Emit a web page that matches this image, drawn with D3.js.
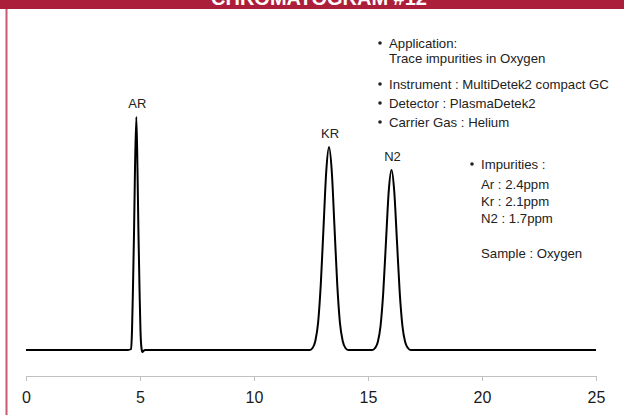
<!DOCTYPE html>
<html>
<head>
<meta charset="utf-8">
<script src="https://cdn.jsdelivr.net/npm/d3@7/dist/d3.min.js"></script>
<style>
  html, body { margin: 0; padding: 0; background: #fff; }
  svg { display: block; }
</style>
</head>
<body>
<script>
// ---- data (retention time in min, detector signal in arbitrary units) ----
const title = "CHROMATOGRAM #12";
const xTicks = [0, 5, 10, 15, 20, 25];

const timeAR = [0, 4.47, 4.61, 4.65, 4.69, 4.74, 4.78, 4.84, 4.89, 4.93, 4.98, 5.02, 5.07, 5.11, 5.15, 5.22];
const signalAR = [0, 0, 1, 20, 60, 120, 180, 233, 180, 120, 60, 20, 1, -2, -1, 0];

const timeKR = [12.45, 12.57, 12.69, 12.81, 12.93, 13.05, 13.17, 13.29, 13.41, 13.53, 13.65, 13.77, 13.89, 14.01, 14.13];
const signalKR = [0, 2, 9, 27, 66, 123, 179, 203, 179, 123, 66, 27, 9, 2, 0];

const timeN2 = [15.19, 15.31, 15.43, 15.55, 15.67, 15.79, 15.91, 16.03, 16.15, 16.27, 16.39, 16.51, 16.63, 16.75, 16.87, 25];
const signalN2 = [0, 2, 8, 24, 58, 109, 159, 180, 159, 109, 58, 24, 8, 2, 0, 0];

const peakNames = ["AR", "KR", "N2"];
const peakTimes = [4.84, 13.29, 16.03];
const peakHeights = [233, 203, 180];

const infoLines1 = [
  { bullet: true, text: "Application:" },
  { bullet: false, text: "Trace impurities in Oxygen" },
  { bullet: true, text: "Instrument : MultiDetek2 compact GC" },
  { bullet: true, text: "Detector : PlasmaDetek2" },
  { bullet: true, text: "Carrier Gas : Helium" }
];
const infoLines2 = [
  { bullet: true, text: "Impurities :" },
  { bullet: false, text: "Ar : 2.4ppm" },
  { bullet: false, text: "Kr : 2.1ppm" },
  { bullet: false, text: "N2 : 1.7ppm" },
  { bullet: false, text: "" },
  { bullet: false, text: "Sample : Oxygen" }
];

// ---- layout ----
const W = 624, H = 417;
const svg = d3.select("body").append("svg").attr("width", W).attr("height", H);

const x = d3.scaleLinear().domain([0, 25]).range([26, 596]);
const y = d3.scaleLinear().domain([0, 300]).range([350, 50]);

// header bar + left border
svg.append("rect").attr("x", 0).attr("y", 0).attr("width", W).attr("height", 9).attr("fill", "#ac1f3b");
svg.append("text").attr("x", 319).attr("y", 5).attr("text-anchor", "middle")
  .attr("font-family", "Liberation Sans, Arial, sans-serif").attr("font-weight", "bold")
  .attr("font-size", 20).attr("fill", "#fff").text(title);
svg.append("line").attr("x1", 6.5).attr("x2", 6.5).attr("y1", 9).attr("y2", 415)
  .attr("stroke", "#c9596f").attr("stroke-width", 2);

// axis
const axis = d3.axisBottom(x).tickValues(xTicks).tickSize(5).tickPadding(11).tickFormat(d3.format("d"));
const gx = svg.append("g").attr("transform", "translate(0,376)").call(axis);
gx.select(".domain").attr("stroke", "#c0c0c0");
gx.selectAll(".tick line").attr("stroke", "#c0c0c0");
gx.selectAll(".tick text").attr("font-family", "Liberation Sans, Arial, sans-serif")
  .attr("font-size", 16).attr("fill", "#1a1a1a");

// trace
const times = timeAR.concat(timeKR, timeN2);
const signals = signalAR.concat(signalKR, signalN2);
const pts = times.map((t, i) => [t, signals[i]]);
const line = d3.line().x(d => x(d[0])).y(d => y(d[1])).curve(d3.curveMonotoneX);
svg.append("path").attr("d", line(pts)).attr("fill", "none")
  .attr("stroke", "#000").attr("stroke-width", 2).attr("stroke-linejoin", "round");

// peak labels
svg.selectAll("text.peak").data(peakNames).enter().append("text").attr("class", "peak")
  .attr("x", (d, i) => x(peakTimes[i]) + 1).attr("y", (d, i) => y(peakHeights[i]) - 9)
  .attr("text-anchor", "middle").attr("font-family", "Liberation Sans, Arial, sans-serif")
  .attr("font-size", 13).attr("fill", "#222").text(d => d);

// info blocks
function block(lines, x0, yPositions) {
  const g = svg.append("g").attr("font-family", "Liberation Sans, Arial, sans-serif")
    .attr("font-size", 13.2).attr("fill", "#222");
  lines.forEach((l, i) => {
    if (l.bullet) g.append("circle").attr("cx", x0 - 9).attr("cy", yPositions[i]).attr("r", 1.8).attr("fill", "#222");
    g.append("text").attr("x", x0).attr("y", yPositions[i]).attr("dy", "0.35em").text(l.text);
  });
}
block(infoLines1, 389, [43, 58, 84, 103, 122]);
block(infoLines2, 481, [164, 184, 201, 218, 235, 253]);
</script>
</body>
</html>
